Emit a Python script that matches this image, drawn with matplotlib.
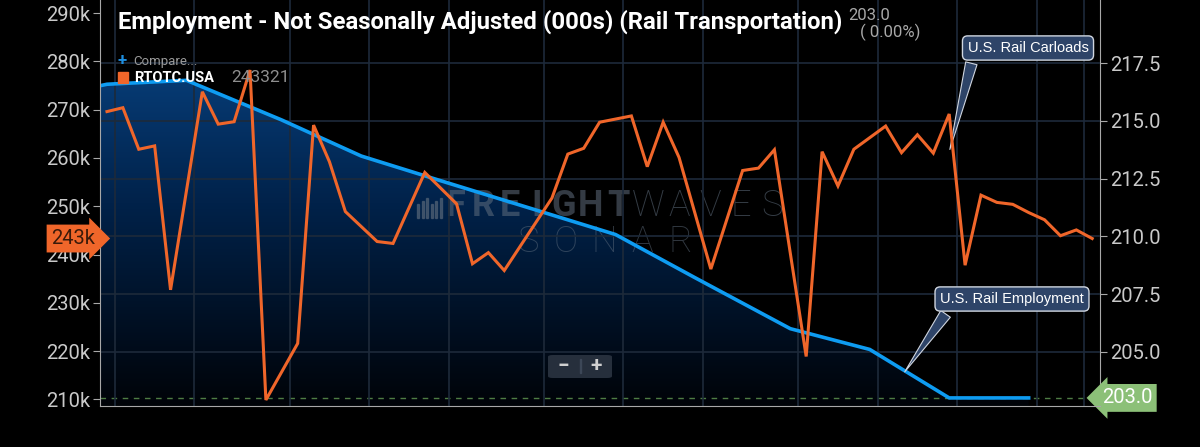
import numpy as np
import matplotlib
matplotlib.use('Agg')
import matplotlib.pyplot as plt
from matplotlib.colors import LinearSegmentedColormap
from matplotlib.patches import FancyBboxPatch, Rectangle

plt.rcParams['font.family'] = ['Roboto', 'DejaVu Sans']

# weekly rail carloads (RTOTC.USA), thousands; x = week number
orange_week = [0, 1, 2, 3, 4, 6, 7, 8, 9, 10, 12, 13, 14, 15, 17, 18, 20, 22, 23, 24, 25,
               28, 29, 30, 31, 33, 34, 35, 36, 38, 40, 41, 42, 44, 45, 46, 47, 49, 50, 51,
               52, 53, 54, 55, 56, 57, 58, 59, 60, 61, 62]
orange_k = [269.6, 270.4, 261.8, 262.5, 232.7, 273.7, 267.0, 267.5, 278.2, 209.9, 221.6,
            266.8, 259.2, 248.9, 242.7, 242.3, 257.0, 250.5, 238.1, 240.4, 236.7,
            251.7, 260.8, 262.0, 267.4, 268.7, 258.2, 267.4, 260.1, 237.0, 257.4, 257.9,
            261.7, 218.9, 261.3, 254.2, 261.8, 266.6, 261.1, 264.8, 261.0, 269.1, 237.8,
            252.3, 250.8, 250.4, 248.7, 247.2, 243.9, 245.1, 243.321]

# monthly rail employment (000s)
blue_week = [-5, 0, 5, 11, 16, 21, 27, 32, 37, 43, 48, 53, 58]
blue_val = [215.86, 216.59, 216.76, 215.04, 213.48, 212.41, 211.14, 210.08, 208.21,
            206.0, 205.1, 203.0, 203.0]

tick_pos = [0.5, 5.5, 11.5, 16.5, 21.5, 27.5, 32.5, 37.5, 43.5, 48.5, 53.5, 58.5, 61.5]
tick_lbl = ['Nov', 'Dec', '2019', 'Feb', 'Mar', 'Apr', 'May', 'Jun', 'Jul', 'Aug', 'Sep', 'Oct', '21']

left_ticks = [210, 220, 230, 240, 250, 260, 270, 280, 290]
right_ticks = [205.0, 207.5, 210.0, 212.5, 215.0, 217.5]

W, H = 1200, 447


def px(x, y):
    return x / W, 1 - y / H


fig = plt.figure(figsize=(12, 4.47), dpi=100, facecolor='black')
ax2 = fig.add_axes([100 / W, 1 - 406 / H, 1000 / W, 406 / H])
ax2.set_facecolor('black')
ax = ax2.twinx()
# orange series on the left scale, drawn on top
ax.yaxis.tick_left()
ax2.yaxis.tick_right()
ax.set_zorder(3)
ax2.set_zorder(2)
ax.patch.set_visible(False)

xlim = (-0.44, 62.49)
ylim_l = (208.65, 292.7)
ylim_r = (202.65, 220.24)

# gradient fill under employment line
fill = ax2.fill_between(blue_week, blue_val, ylim_r[0], color='none', lw=0)
cmap = LinearSegmentedColormap.from_list('g', ['#000308', '#01224a', '#0a4a8e'])
grad = np.linspace(0, 1, 256).reshape(-1, 1)
img = ax2.imshow(grad, extent=[xlim[0], xlim[1], ylim_r[0], ylim_r[1]], origin='lower',
                 aspect='auto', cmap=cmap, zorder=0.5)
img.set_clip_path(fill.get_paths()[0], transform=ax2.transData)

# watermark, above the fill but under the lines
wm_c = '#5f6d7d'
for i, ch in enumerate('FREIGHT'):
    ax2.text(*px(456 + i * 27, 206), ch, transform=fig.transFigure, fontsize=26,
             fontweight='bold', color=wm_c, alpha=0.55, ha='center', va='center', zorder=1)
for i, ch in enumerate('WAVES'):
    ax2.text(*px(648 + i * 31, 206), ch, transform=fig.transFigure, fontsize=26,
             fontweight='light', color=wm_c, alpha=0.55, ha='center', va='center', zorder=1)
for i, ch in enumerate('SONAR'):
    ax2.text(*px(528 + i * 38, 242), ch, transform=fig.transFigure, fontsize=26,
             fontweight='light', color=wm_c, alpha=0.5, ha='center', va='center', zorder=1)
for i in range(6):
    ax2.add_patch(Rectangle(px(417 + i * 4.5, 218), 2.2 / W, (14 + (i % 3) * 3) / H,
                            transform=fig.transFigure, color=wm_c, alpha=0.55, zorder=1))

ax2.axhline(203.0, color='#4e7c44', lw=1, ls=(0, (4, 4)), zorder=1)
ax2.plot(blue_week, blue_val, color='#0e9cf2', lw=2.6, zorder=3, solid_joinstyle='round')
ax.plot(orange_week, orange_k, color='#f0662a', lw=2.2, zorder=4, solid_joinstyle='miter')

ax.set_xlim(*xlim)
ax2.set_xlim(*xlim)
ax.set_ylim(*ylim_l)
ax2.set_ylim(*ylim_r)

grid_c = '#1d2a3a'
ax2.set_yticks(right_ticks)
ax2.set_yticklabels([f'{v:.1f}' for v in right_ticks])
ax2.grid(axis='y', color=grid_c, lw=1.2)
ax2.set_axisbelow(False)
ax.set_yticks(left_ticks)
ax.set_yticklabels([f'{v}k' for v in left_ticks])
ax.set_xticks(tick_pos)
ax.set_xticklabels(tick_lbl)
for t in tick_pos:
    ax2.axvline(t, color=grid_c, lw=1.2, zorder=1.5)

lab_c = '#c9c9c9'
spine_c = '#a8a8a8'
ax.tick_params(axis='y', colors=spine_c, labelcolor=lab_c, labelsize=14.5, length=5, pad=2)
ax.tick_params(axis='x', colors=spine_c, labelcolor=lab_c, labelsize=14.5, length=6, pad=5)
ax2.tick_params(axis='y', colors=spine_c, labelcolor=lab_c, labelsize=14.5, length=5, pad=2)
for s in ['top', 'right']:
    ax.spines[s].set_visible(False)
for s in ['top', 'left', 'bottom']:
    ax2.spines[s].set_visible(False)
ax.spines['left'].set_color(spine_c)
ax.spines['bottom'].set_color(spine_c)
ax2.spines['right'].set_color(spine_c)

# title and header
fig.text(*px(118, 22), 'Employment - Not Seasonally Adjusted (000s) (Rail Transportation)',
         fontsize=17.2, fontweight='bold', color='white', va='center', ha='left', zorder=10)
fig.text(*px(848, 15), '203.0', fontsize=12, color='#a8a8a8', va='center', ha='left', zorder=10)
fig.text(*px(860, 32), '( 0.00%)', fontsize=12, color='#a8a8a8', va='center', ha='left', zorder=10)
fig.text(*px(118, 60), '+', fontsize=12, color='#1e8fe0', va='center', ha='left',
         fontweight='bold', zorder=10)
fig.text(*px(133, 61), 'Compare...', fontsize=9.5, color='#9a9a9a', va='center', ha='left', zorder=10)
fig.add_artist(Rectangle(px(118, 83), 10 / W, 11 / H, transform=fig.transFigure,
                         color='#f0662a', zorder=10))
fig.text(*px(134, 78), 'RTOTC.USA', fontsize=10.5, fontweight='bold', color='white',
         va='center', ha='left', zorder=10)
fig.text(*px(231, 78), '243321', fontsize=12.5, color='#8e8e8e', va='center', ha='left', zorder=10)

# value badges on the axes
ax.text(-0.027, orange_k[-1], '243k', transform=ax.get_yaxis_transform(), fontsize=14.5,
        color='#3a1a0a', ha='center', va='center', clip_on=False,
        bbox=dict(boxstyle='rarrow,pad=0.22', fc='#f0662a', ec='none'))
ax2.text(1.027, 203.0, '203.0', transform=ax2.get_yaxis_transform(), fontsize=14.5,
         color='white', ha='center', va='center', clip_on=False,
         bbox=dict(boxstyle='larrow,pad=0.22', fc='#8cc078', ec='none'))

# zoom buttons
fig.add_artist(FancyBboxPatch(px(548, 378), 64 / W, 23 / H, transform=fig.transFigure,
                              boxstyle='round,pad=0,rounding_size=0.004', fc='#262f3c',
                              ec='none', zorder=10))
fig.add_artist(Rectangle(px(580, 373), 1 / W, 14 / H, transform=fig.transFigure,
                         color='#3c4757', zorder=11))
fig.text(*px(563, 366), '\u2212', fontsize=15, color='#d0d0d0', fontweight='bold',
         ha='center', va='center', zorder=11)
fig.text(*px(596, 366), '+', fontsize=15, color='#d0d0d0', fontweight='bold',
         ha='center', va='center', zorder=11)

# callouts
box = dict(boxstyle='round,pad=0.35', fc='#2e4468', ec='#d0d6e0', lw=1)
ax.annotate('U.S. Rail Carloads', xy=(53.0, 261.2), xytext=(1028, 447 - 48),
            textcoords='figure pixels', fontsize=10.5, color='white', ha='center',
            va='center', family=['Liberation Sans', 'DejaVu Sans'], bbox=box,
            arrowprops=dict(arrowstyle='wedge,tail_width=0.8,shrink_factor=0.5',
                            fc='#2e4468', ec='#d0d6e0', lw=0.8, relpos=(0.05, 0.05)),
            annotation_clip=False)
ax2.annotate('U.S. Rail Employment', xy=(50.1, 204.03), xytext=(1012, 447 - 299),
             textcoords='figure pixels', fontsize=10.5, color='white', ha='center',
             va='center', family=['Liberation Sans', 'DejaVu Sans'], bbox=box,
             arrowprops=dict(arrowstyle='wedge,tail_width=0.8,shrink_factor=0.5',
                             fc='#2e4468', ec='#d0d6e0', lw=0.8, relpos=(0.08, 0.05)),
             annotation_clip=False)

fig.savefig('out.png', dpi=100, facecolor='black')
